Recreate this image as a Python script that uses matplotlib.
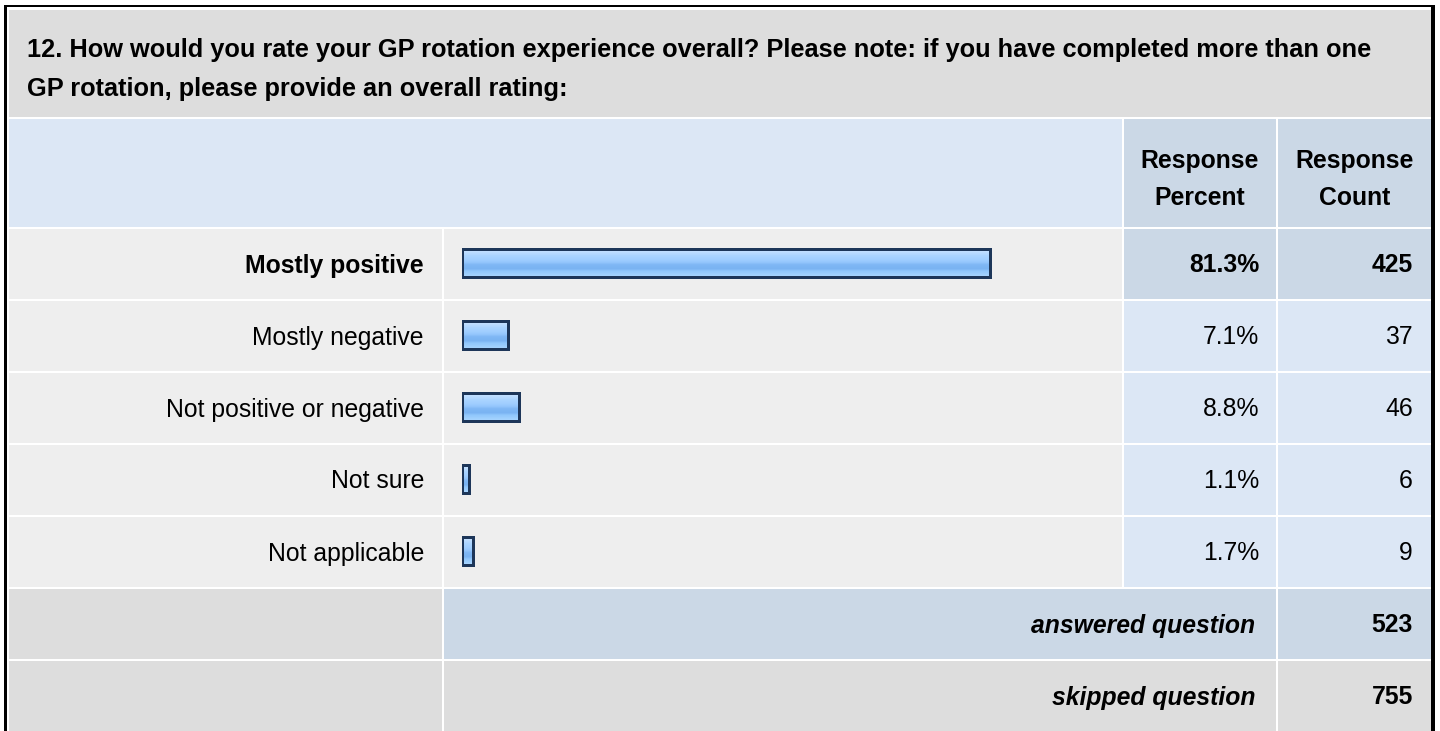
import numpy as np
import matplotlib.pyplot as plt
from matplotlib.patches import Rectangle
from matplotlib.colors import LinearSegmentedColormap

plt.rcParams['font.family'] = ['Liberation Sans', 'DejaVu Sans']

# survey question 12 results
title_lines = ["12. How would you rate your GP rotation experience overall? Please note: if you have completed more than one",
               "GP rotation, please provide an overall rating:"]
answers = ["Mostly positive", "Mostly negative", "Not positive or negative", "Not sure", "Not applicable"]
percents = [81.3, 7.1, 8.8, 1.1, 1.7]
counts = [425, 37, 46, 6, 9]
answered = 523
skipped = 755

W, H = 1440, 731
GRAY = '#dddddd'
LIGHT = '#eeeeee'
PALE_BLUE = '#dce7f5'
BLUE_GRAY = '#cbd8e6'
FS = 17.8
TITLE_FS = 18.3

fig = plt.figure(figsize=(W / 100, H / 100), dpi=100)
ax = fig.add_axes([0, 0, 1, 1])
ax.set_xlim(0, W)
ax.set_ylim(H, 0)
ax.axis('off')


def cell(x0, x1, y0, y1, color):
    ax.add_patch(Rectangle((x0, y0), x1 - x0, y1 - y0, facecolor=color, edgecolor='none'))


# outer frame
cell(4, 1435, 5, H, 'black')
cell(7, 1431, 7, H, 'white')

cols = [(9, 442), (444, 1122), (1124, 1276), (1278, 1431)]
row_h, row_gap = 70, 2
first_row = 229

# title and header
cell(9, 1431, 10, 117, GRAY)
cell(9, 1122, 119, 227, PALE_BLUE)
cell(1124, 1276, 119, 227, BLUE_GRAY)
cell(1278, 1431, 119, 227, BLUE_GRAY)
for i, line in enumerate(title_lines):
    ax.text(27, 57 + 39 * i, line, fontsize=TITLE_FS, fontweight='bold', va='baseline', ha='left')
for xc, word in [(1200, "Percent"), (1354.5, "Count")]:
    ax.text(xc, 168, "Response", fontsize=FS, fontweight='bold', ha='center', va='baseline')
    ax.text(xc, 205, word, fontsize=FS, fontweight='bold', ha='center', va='baseline')

# answer rows
top_answer = int(np.argmax(percents))
for i, (name, pct, cnt) in enumerate(zip(answers, percents, counts)):
    y0 = first_row + i * (row_h + row_gap)
    y1 = y0 + row_h
    yc = (y0 + y1) / 2
    side = BLUE_GRAY if i == top_answer else PALE_BLUE
    cell(*cols[0], y0, y1, LIGHT)
    cell(*cols[1], y0, y1, LIGHT)
    cell(*cols[2], y0, y1, side)
    cell(*cols[3], y0, y1, side)
    weight = 'bold' if i == top_answer else 'normal'
    ax.text(424, yc + 8.5, name, fontsize=FS, fontweight=weight, ha='right', va='baseline')
    ax.text(1259, yc + 8.5, f"{pct:.1f}%", fontsize=FS, fontweight=weight, ha='right', va='baseline')
    ax.text(1413, yc + 8.5, str(cnt), fontsize=FS, fontweight=weight, ha='right', va='baseline')

# summary rows
y_ans = first_row + len(answers) * (row_h + row_gap)
y_skip = y_ans + row_h + row_gap
cell(*cols[0], y_ans, y_ans + row_h, GRAY)
cell(444, 1276, y_ans, y_ans + row_h, BLUE_GRAY)
cell(*cols[3], y_ans, y_ans + row_h, BLUE_GRAY)
cell(*cols[0], y_skip, H, GRAY)
cell(444, 1276, y_skip, H, GRAY)
cell(*cols[3], y_skip, H, GRAY)
for yy, label, val in [(y_ans, "answered question", answered), (y_skip, "skipped question", skipped)]:
    yc = yy + row_h / 2
    ax.text(1255, yc + 8.5, label, fontsize=FS, fontweight='bold', fontstyle='italic', ha='right', va='baseline')
    ax.text(1413, yc + 8.5, str(val), fontsize=FS, fontweight='bold', ha='right', va='baseline')

# bar column: fixed pixels per percent
px_per_pct = 6.5
bar_left = 461.5
band_top = first_row - 2
band_h = len(answers) * (row_h + row_gap)
ax_bar = fig.add_axes([bar_left / W, 1 - (band_top + band_h) / H, 100 * px_per_pct / W, band_h / H])
ax_bar.axis('off')

bar_cmap = LinearSegmentedColormap.from_list('bar', [
    (0.00, '#d2e9ff'), (0.12, '#c0deff'), (0.25, '#acd5ff'), (0.40, '#a0ceff'),
    (0.50, '#93c5fc'), (0.58, '#7fb7f5'), (0.72, '#7ab3f2'), (0.80, '#90c7fc'),
    (1.00, '#aad6ff')])
grad = np.linspace(0, 1, 64).reshape(-1, 1)
bar_h = 0.4
ypos = np.arange(len(answers))
bars = ax_bar.barh(ypos, percents, height=bar_h, left=0, facecolor='none',
                   edgecolor='#1d3659', linewidth=2.16, zorder=3)
for y, pct, patch in zip(ypos, percents, bars):
    im = ax_bar.imshow(grad, extent=[0, pct, y + bar_h / 2, y - bar_h / 2], aspect='auto',
                       cmap=bar_cmap, interpolation='bilinear', zorder=2)
    im.set_clip_path(patch)
ax_bar.set_xlim(0, 100)
ax_bar.set_ylim(len(answers) - 0.5, -0.5)

fig.savefig('out.png', dpi=100)
